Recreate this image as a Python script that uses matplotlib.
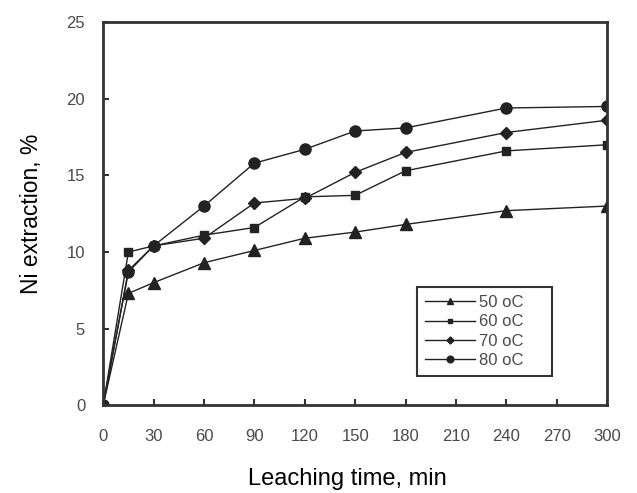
import matplotlib.pyplot as plt

plt.rcParams['font.family'] = ['Liberation Sans', 'DejaVu Sans']

# leaching time, min
t = [0, 15, 30, 60, 90, 120, 150, 180, 240, 300]
# Ni extraction, %
ni_50 = [0, 7.3, 8.0, 9.3, 10.1, 10.9, 11.3, 11.8, 12.7, 13.0]
ni_60 = [0, 10.0, 10.4, 11.1, 11.6, 13.6, 13.7, 15.3, 16.6, 17.0]
ni_70 = [0, 8.8, 10.4, 10.9, 13.2, 13.5, 15.2, 16.5, 17.8, 18.6]
ni_80 = [0, 8.7, 10.4, 13.0, 15.8, 16.7, 17.9, 18.1, 19.4, 19.5]
labels = ['50 oC', '60 oC', '70 oC', '80 oC']
x_ticks = [0, 30, 60, 90, 120, 150, 180, 210, 240, 270, 300]
y_ticks = [0, 5, 10, 15, 20, 25]

fig = plt.figure(figsize=(6.37, 4.93), dpi=100)
ax = fig.add_axes([0.162, 0.178, 0.791, 0.777])

c = '#222222'
ax.plot(t, ni_50, color=c, lw=1, marker='^', ms=8, label=labels[0])
ax.plot(t, ni_60, color=c, lw=1, marker='s', ms=6, label=labels[1])
ax.plot(t, ni_70, color=c, lw=1, marker='D', ms=6, label=labels[2])
ax.plot(t, ni_80, color=c, lw=1, marker='o', ms=8, label=labels[3])

ax.set_xlim(0, 300)
ax.set_ylim(0, 25)
ax.set_xticks(x_ticks)
ax.set_yticks(y_ticks)
ax.tick_params(direction='in', length=4, width=1.5, color='#333333',
               labelsize=12, labelcolor='#4a4a4a')
ax.tick_params(axis='x', pad=17)
ax.tick_params(axis='y', pad=13)
for s in ax.spines.values():
    s.set_linewidth(2)
    s.set_color('#333333')

ax.set_ylabel('Ni extraction, %', fontsize=16.5, labelpad=17)
ax.set_xlabel('Leaching time, min', fontsize=17)
ax.xaxis.set_label_coords(0.484, -0.163)

leg = ax.legend(loc='lower left', bbox_to_anchor=(0.623, 0.076, 0.268, 0.25),
                mode='expand', borderaxespad=0, fontsize=12, fancybox=False,
                framealpha=1, edgecolor='#333333', handlelength=3.0,
                handletextpad=0.2, markerscale=0.6, labelspacing=0.25,
                borderpad=0.5)
leg.get_frame().set_linewidth(1.5)
for txt in leg.get_texts():
    txt.set_color('#4a4a4a')

fig.savefig('out.png', dpi=100)
